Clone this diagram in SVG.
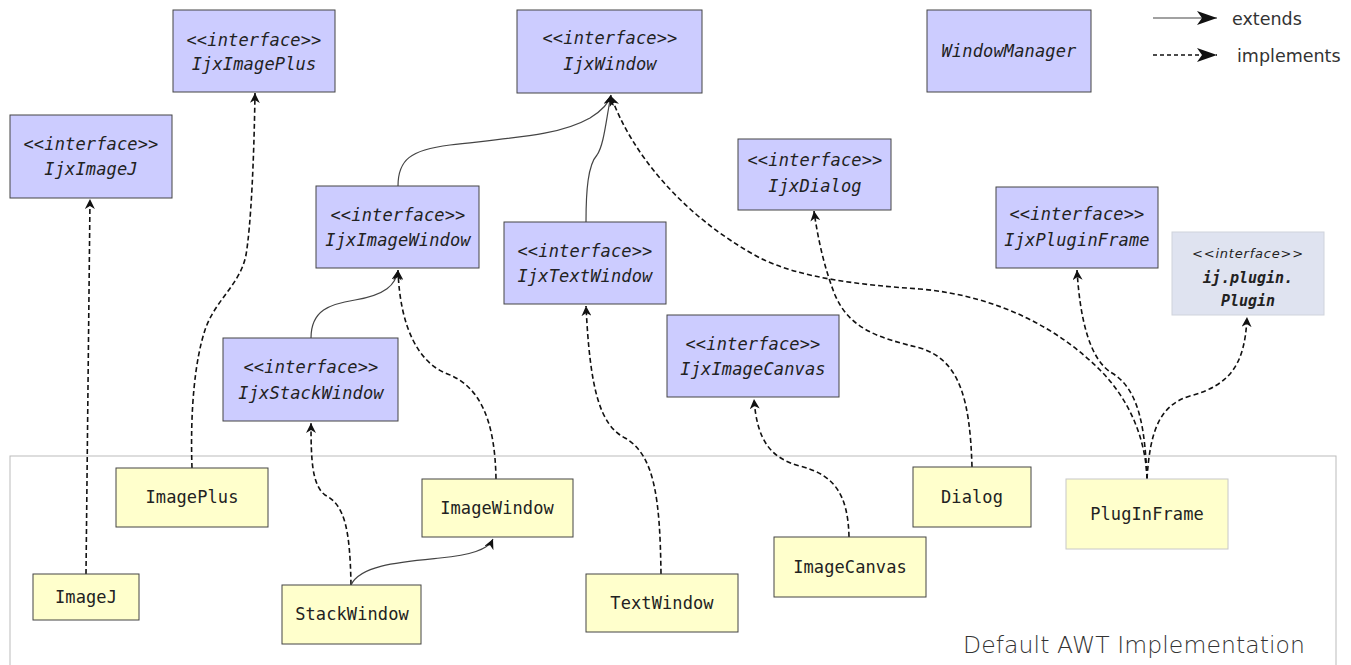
<svg xmlns="http://www.w3.org/2000/svg" width="1351" height="665" viewBox="0 0 1351 665">
<style>
.iface{fill:#ccccff;stroke:#444;stroke-width:1}
.impl{fill:#ffffcc;stroke:#444;stroke-width:1}
.light{stroke:#c8c8c8}
.plug{fill:#dfe3f0;stroke:#cfd3dc;stroke-width:1}
.it{font-family:"DejaVu Sans Mono",monospace;font-style:italic;font-size:17px;letter-spacing:0.15px;fill:#222;text-anchor:middle}
.nt{font-family:"DejaVu Sans Mono",monospace;font-size:17px;letter-spacing:0.1px;fill:#222;text-anchor:middle}
.sm{font-family:"DejaVu Sans",sans-serif;font-style:italic;font-size:13px;letter-spacing:0.8px;fill:#222;text-anchor:middle}
.smm{font-family:"DejaVu Sans Mono",monospace;font-style:italic;font-weight:bold;font-size:15px;fill:#222;text-anchor:middle}
.lg{font-family:"DejaVu Sans",sans-serif;font-size:17.5px;fill:#333}
.ext{fill:none;stroke:#444;stroke-width:1.2;marker-end:url(#ah)}
.imp{fill:none;stroke:#111;stroke-width:1.6;stroke-dasharray:5 3;marker-end:url(#ah)}
</style>
<defs>
<marker id="ah" viewBox="0 0 10 10" refX="10" refY="5" markerWidth="10" markerHeight="10" markerUnits="userSpaceOnUse" orient="auto">
<path d="M0,0 L10,5 L0,10 L3,5 z" fill="#111"/>
</marker>
<marker id="ahl" viewBox="0 0 20 14" refX="20" refY="7" markerWidth="20" markerHeight="14" markerUnits="userSpaceOnUse" orient="auto">
<path d="M0,0 L20,7 L0,14 L5,7 z" fill="#111"/>
</marker>
</defs>
<rect width="1351" height="665" fill="#fff"/>

<g id="awt-container">
<rect x="10" y="456" width="1326" height="220" fill="none" stroke="#bbb" stroke-width="1"/>
<text x="963" y="653" font-family="DejaVu Sans, sans-serif" font-size="23.5" font-weight="200" fill="#333" textLength="342" lengthAdjust="spacing">Default AWT Implementation</text>
</g>

<g id="legend">
<line x1="1153" y1="18" x2="1217" y2="18" stroke="#444" stroke-width="1.2" marker-end="url(#ahl)"/>
<line x1="1153" y1="55" x2="1217" y2="55" stroke="#111" stroke-width="1.6" stroke-dasharray="4 3" marker-end="url(#ahl)"/>
<text class="lg" x="1232" y="25">extends</text>
<text class="lg" x="1237" y="62">implements</text>
</g>

<g id="connectors">
<path class="imp" d="M86,574 L90,199"/>
<path class="imp" d="M192,468 C190,410 195,360 205,330 C215,300 240,285 246,255 C251,225 254,160 255,93"/>
<path class="ext" d="M398,186 C398,160 410,150 450,145 C520,137 560,135 590,118 C603,110 609,103 611,95"/>
<path class="ext" d="M586,222 C586,190 588,165 597,155 C604,145 606,120 611,95"/>
<path class="imp" d="M1147,479 C1146,440 1130,400 1100,370 C1060,330 1000,296 920,289 C860,285 800,278 760,258 C680,215 630,150 611,96"/>
<path class="imp" d="M1147,479 C1145,430 1140,390 1112,373 C1090,360 1080,320 1077,270"/>
<path class="imp" d="M1147,479 C1150,430 1160,405 1190,396 C1230,385 1245,365 1247,317"/>
<path class="imp" d="M972,467 C970,400 960,360 920,348 C880,338 850,330 835,295 C825,270 818,240 814,211"/>
<path class="imp" d="M849,537 C848,495 835,475 800,466 C770,458 757,440 754,399"/>
<path class="imp" d="M661,574 C660,500 655,455 625,438 C600,425 590,390 586,306"/>
<path class="imp" d="M496,479 C495,420 480,385 445,373 C420,362 400,330 398,270"/>
<path class="imp" d="M351,585 C350,530 345,505 325,495 C312,485 311,460 311,423"/>
<path class="ext" d="M311,338 C311,310 330,304 355,300 C385,295 396,285 398,270"/>
<path class="ext" d="M351,585 C360,565 400,562 440,558 C470,555 488,550 493,539"/>
</g>

<g id="IjxImagePlus"><rect class="iface" x="173" y="10" width="162" height="82"/><text class="it" x="254" y="46">&lt;&lt;interface&gt;&gt;</text><text class="it" x="254" y="70">IjxImagePlus</text></g>
<g id="IjxImageJ"><rect class="iface" x="10" y="115" width="162" height="83"/><text class="it" x="91" y="150">&lt;&lt;interface&gt;&gt;</text><text class="it" x="91" y="175">IjxImageJ</text></g>
<g id="IjxWindow"><rect class="iface" x="517" y="10" width="185" height="83"/><text class="it" x="610" y="44">&lt;&lt;interface&gt;&gt;</text><text class="it" x="610" y="70">IjxWindow</text></g>
<g id="WindowManager"><rect class="iface" x="927" y="10" width="164" height="82"/><text class="it" x="1009" y="57">WindowManager</text></g>
<g id="IjxDialog"><rect class="iface" x="738" y="139" width="153" height="71"/><text class="it" x="815" y="166">&lt;&lt;interface&gt;&gt;</text><text class="it" x="815" y="192">IjxDialog</text></g>
<g id="IjxImageWindow"><rect class="iface" x="316" y="186" width="163" height="82"/><text class="it" x="398" y="221">&lt;&lt;interface&gt;&gt;</text><text class="it" x="398" y="246">IjxImageWindow</text></g>
<g id="IjxTextWindow"><rect class="iface" x="504" y="222" width="162" height="82"/><text class="it" x="585" y="257">&lt;&lt;interface&gt;&gt;</text><text class="it" x="585" y="282">IjxTextWindow</text></g>
<g id="IjxStackWindow"><rect class="iface" x="223" y="338" width="175" height="83"/><text class="it" x="311" y="373">&lt;&lt;interface&gt;&gt;</text><text class="it" x="311" y="399">IjxStackWindow</text></g>
<g id="IjxImageCanvas"><rect class="iface" x="667" y="315" width="172" height="82"/><text class="it" x="753" y="350">&lt;&lt;interface&gt;&gt;</text><text class="it" x="753" y="375">IjxImageCanvas</text></g>
<g id="IjxPluginFrame"><rect class="iface" x="996" y="187" width="162" height="81"/><text class="it" x="1077" y="220">&lt;&lt;interface&gt;&gt;</text><text class="it" x="1077" y="246">IjxPluginFrame</text></g>
<g id="Plugin"><rect class="plug" x="1172" y="232" width="152" height="83"/><text class="sm" x="1248" y="258">&lt;&lt;interface&gt;&gt;</text><text class="smm" x="1248" y="283">ij.plugin.</text><text class="smm" x="1248" y="306">Plugin</text></g>

<g id="ImagePlus"><rect class="impl" x="116" y="468" width="152" height="59"/><text class="nt" x="192" y="503">ImagePlus</text></g>
<g id="ImageJ"><rect class="impl" x="33" y="574" width="106" height="46"/><text class="nt" x="86" y="603">ImageJ</text></g>
<g id="StackWindow"><rect class="impl" x="282" y="585" width="139" height="59"/><text class="nt" x="352" y="620">StackWindow</text></g>
<g id="ImageWindow"><rect class="impl" x="422" y="479" width="151" height="58"/><text class="nt" x="497" y="514">ImageWindow</text></g>
<g id="TextWindow"><rect class="impl" x="586" y="574" width="152" height="58"/><text class="nt" x="662" y="609">TextWindow</text></g>
<g id="ImageCanvas"><rect class="impl" x="774" y="537" width="152" height="60"/><text class="nt" x="850" y="573">ImageCanvas</text></g>
<g id="Dialog"><rect class="impl" x="913" y="467" width="118" height="60"/><text class="nt" x="972" y="503">Dialog</text></g>
<g id="PlugInFrame"><rect class="impl light" x="1066" y="479" width="162" height="70"/><text class="nt" x="1147" y="520">PlugInFrame</text></g>
</svg>
